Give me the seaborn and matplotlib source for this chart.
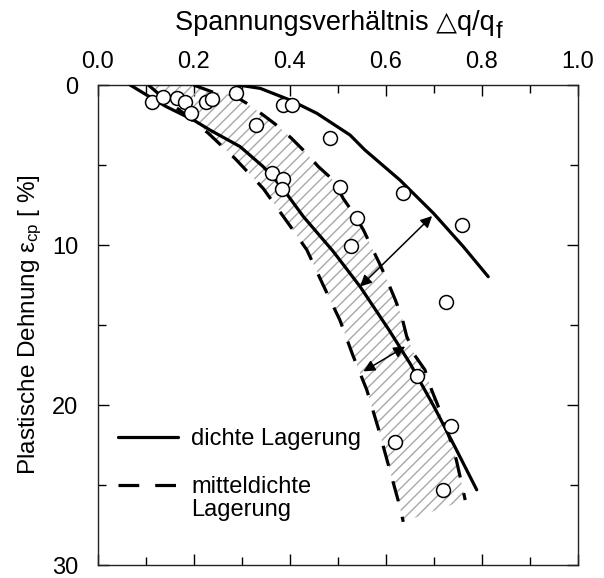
import numpy as np
import pandas as pd
import matplotlib
matplotlib.use("Agg")
import matplotlib.pyplot as plt
import seaborn as sns

# Measured points: stress ratio dq/qf vs plastic strain eps_cp [%]
ratio = [0.112, 0.136, 0.164, 0.181, 0.193, 0.224, 0.237, 0.288, 0.329,
         0.385, 0.404, 0.483, 0.362, 0.386, 0.383, 0.504, 0.636, 0.539,
         0.759, 0.528, 0.724, 0.664, 0.735, 0.619, 0.719]
strain = [1.04, 0.73, 0.83, 1.04, 1.73, 1.08, 0.88, 0.52, 2.50,
          1.25, 1.25, 3.29, 5.52, 5.90, 6.52, 6.39, 6.77, 8.29,
          8.77, 10.04, 13.54, 18.19, 21.29, 22.29, 25.31]

# Dense packing: lower and upper boundary curves
dense_lo_x = [0.067, 0.100, 0.142, 0.199, 0.233, 0.296, 0.344, 0.382, 0.428,
              0.490, 0.546, 0.606, 0.650, 0.700, 0.745, 0.789]
dense_lo_y = [0.0, 0.6, 1.35, 2.19, 2.81, 3.85, 5.1, 6.35, 8.23,
              10.4, 12.6, 15.3, 17.4, 20.1, 22.7, 25.3]
dense_hi_x = [0.292, 0.338, 0.400, 0.456, 0.525, 0.556, 0.629, 0.699, 0.761, 0.813]
dense_hi_y = [0.0, 0.21, 0.94, 1.77, 3.125, 4.06, 5.94, 8.02, 10.1, 11.98]

# Medium-dense packing: band boundaries
medium_lo_x = [0.105, 0.133, 0.180, 0.230, 0.285, 0.344, 0.400, 0.435, 0.469,
               0.504, 0.531, 0.560, 0.584, 0.605, 0.626, 0.636]
medium_lo_y = [0.0, 0.73, 1.8, 3.02, 4.58, 6.46, 8.8, 10.3, 12.5,
               14.7, 16.9, 19.06, 21.46, 23.75, 26.04, 27.3]
medium_hi_x = [0.199, 0.237, 0.282, 0.310, 0.344, 0.376, 0.403, 0.431, 0.459,
               0.490, 0.511, 0.535, 0.553, 0.571, 0.588, 0.605, 0.619, 0.633,
               0.643, 0.660, 0.681, 0.695, 0.709, 0.722, 0.737, 0.747, 0.756, 0.765]
medium_hi_y = [0.0, 0.42, 0.625, 1.15, 1.875, 2.6, 3.33, 4.17, 5.1,
               5.94, 7.1, 8.14, 9.06, 10.2, 11.25, 12.4, 13.4, 14.5,
               15.7, 16.9, 17.8, 19.06, 20.1, 21.25, 22.4, 23.5, 24.7, 25.94]

# Double arrows marking the shift between the curves
arrows = [((0.696, 8.19), (0.546, 12.6)),
          ((0.640, 16.35), (0.553, 17.9))]

x_ticks = [0.0, 0.2, 0.4, 0.6, 0.8, 1.0]
x_minor = [0.1, 0.3, 0.5, 0.7, 0.9]
y_ticks = [0, 10, 20, 30]
y_minor = [5, 15, 25]

label_dense = "dichte Lagerung"
label_medium = "mitteldichte\nLagerung"
x_title = "Spannungsverhältnis \u25b3q/q"
x_title_sub = "f"

sns.set_style("ticks")
plt.rcParams["font.family"] = ["Liberation Sans", "DejaVu Sans"]
plt.rcParams["mathtext.fontset"] = "custom"
plt.rcParams["mathtext.rm"] = "Liberation Sans"
plt.rcParams["mathtext.it"] = "Liberation Sans"
plt.rcParams["text.color"] = "black"
plt.rcParams["axes.labelcolor"] = "black"

fig = plt.figure(figsize=(6.04, 5.78), dpi=100)
ax = fig.add_axes([98 / 604, 13 / 578, 480 / 604, 480 / 578])

# hatched band between the medium-dense boundaries
band_x = list(medium_lo_x) + list(medium_hi_x[::-1])
band_y = list(medium_lo_y) + list(medium_hi_y[::-1])
ax.fill(band_x, band_y, facecolor="none", edgecolor="#a8a8a8", linewidth=0,
        hatch="///", zorder=1)

lw = 2.3
dash = (0, (6.5, 5.0))
sns.lineplot(x=dense_lo_x, y=dense_lo_y, sort=False, estimator=None, ax=ax,
             color="black", lw=lw, zorder=3)
sns.lineplot(x=dense_hi_x, y=dense_hi_y, sort=False, estimator=None, ax=ax,
             color="black", lw=lw, zorder=3)
sns.lineplot(x=medium_lo_x, y=medium_lo_y, sort=False, estimator=None, ax=ax,
             color="black", lw=lw, linestyle=dash, zorder=3)
sns.lineplot(x=medium_hi_x, y=medium_hi_y, sort=False, estimator=None, ax=ax,
             color="black", lw=lw, linestyle=dash, zorder=3)

sns.scatterplot(x=ratio, y=strain, ax=ax, s=100, marker="o",
                facecolor="white", edgecolor="black", linewidth=1.1, zorder=4)

for start, end in arrows:
    ax.annotate("", xy=end, xytext=start,
                arrowprops=dict(arrowstyle="<|-|>", color="black", lw=1.1,
                                mutation_scale=17, shrinkA=0, shrinkB=0),
                zorder=5)

# key for the two packing densities, placed in axes coordinates
key_x = [0.042, 0.167]
ax.plot(key_x, [0.267, 0.267], transform=ax.transAxes, color="black", lw=lw)
ax.plot(key_x, [0.167, 0.167], transform=ax.transAxes, color="black", lw=lw,
        linestyle=dash)
ax.text(0.194, 0.25, label_dense, transform=ax.transAxes, fontsize=17,
        va="baseline", ha="left", color="black")
ax.text(0.194, 0.185, label_medium, transform=ax.transAxes, fontsize=17,
        va="top", ha="left", linespacing=1.05, color="black")

ax.set_xlim(0, 1)
ax.set_ylim(30, 0)
ax.xaxis.set_ticks_position("both")
ax.yaxis.set_ticks_position("both")
ax.tick_params(axis="x", labeltop=True, labelbottom=False)
ax.set_xticks(x_ticks)
ax.set_xticks(x_minor, minor=True)
ax.set_yticks(y_ticks)
ax.set_yticks(y_minor, minor=True)
ax.set_xticklabels([f"{v:.1f}" for v in x_ticks])
ax.set_yticklabels([str(v) for v in y_ticks])
ax.tick_params(which="both", direction="in", width=1.0, color="black",
               labelsize=17, labelcolor="black")
ax.tick_params(which="major", length=8)
ax.tick_params(which="minor", length=6)
ax.tick_params(axis="x", which="major", pad=9)
ax.tick_params(axis="y", which="major", pad=14)
for sp in ax.spines.values():
    sp.set_linewidth(1.0)
    sp.set_color("#222222")

ax.set_ylabel("Plastische Dehnung \u03b5$_\\mathregular{cp}$ [ %]", fontsize=17.5,
              labelpad=6, color="black")

# x-axis title above the top ticks, with a lowered "f" subscript
title_y = 1 - 30 / 578
t_main = fig.text(0.5, title_y, x_title, fontsize=19.5, ha="left", va="baseline",
                  color="black")
t_sub = fig.text(0.5, title_y - 8 / 578, x_title_sub, fontsize=17, ha="left",
                 va="baseline", color="black")
fig.canvas.draw()
r = fig.canvas.get_renderer()
w_main = t_main.get_window_extent(r).width
w_sub = t_sub.get_window_extent(r).width
cx = (ax.get_position().x0 + ax.get_position().x1) / 2 * fig.bbox.width
left = cx - (w_main + w_sub) / 2
t_main.set_x(left / fig.bbox.width)
t_sub.set_x((left + w_main + 1) / fig.bbox.width)

fig.savefig("out.png", dpi=100)
